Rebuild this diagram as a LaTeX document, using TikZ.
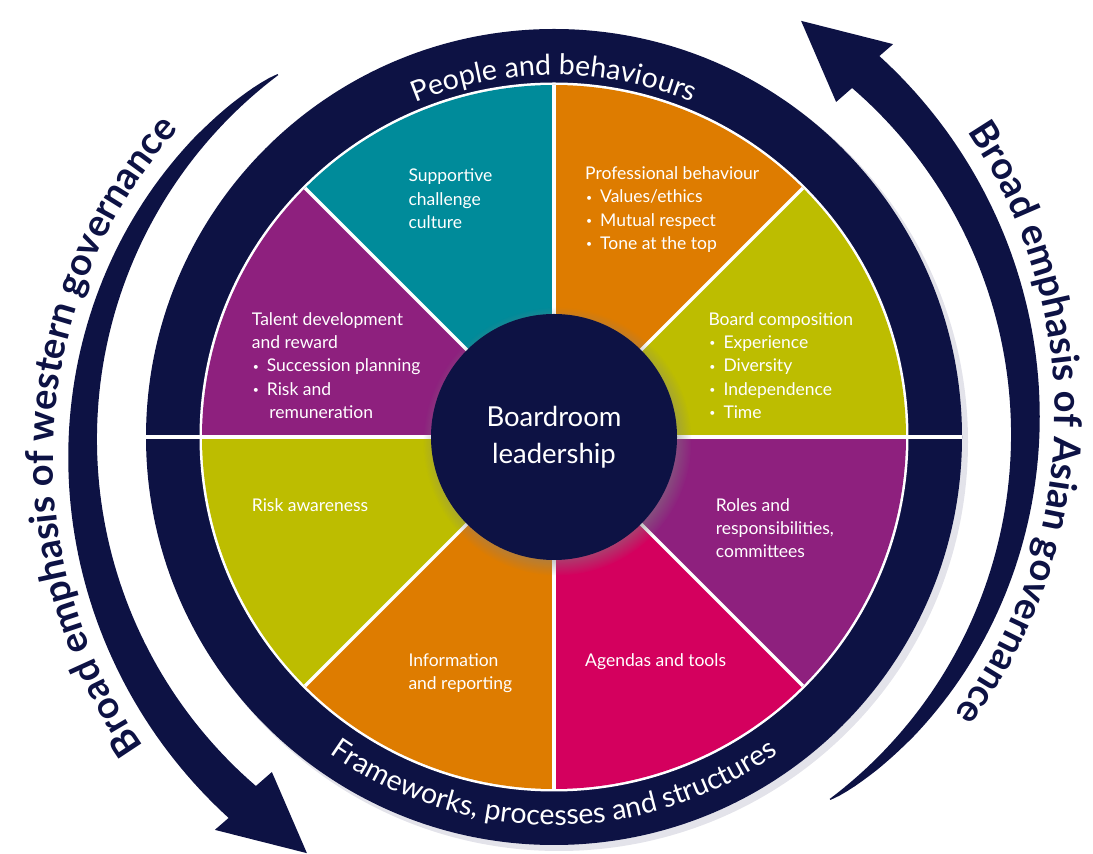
\documentclass[tikz,border=0pt]{standalone}
\usepackage{fontspec}
\setmainfont{Lato}
\usetikzlibrary{decorations.text,shadows}

\definecolor{navy}{HTML}{0D1244}
\definecolor{wheelteal}{HTML}{008B9A}
\definecolor{wheelorange}{HTML}{DE7C00}
\definecolor{wheelolive}{HTML}{BDBD00}
\definecolor{wheelpurple}{HTML}{8E207E}
\definecolor{wheelmagenta}{HTML}{D4005E}
\definecolor{ringshadow}{HTML}{E3E3EA}

% small bullet followed by a fixed indent
\newcommand{\bul}{\makebox[8pt][c]{\raisebox{1.6pt}{\scalebox{0.6}{\textbullet}}}\hspace{7pt}}

\begin{document}
\begin{tikzpicture}[x=1pt,y=1pt,
  declare function={
    sfrac(\t)=(\t-127)/102.5;
    rin(\t)=455+4*sfrac(\t);
    rout(\t)=rin(\t)+42*sfrac(\t)^0.6;
    rtxt(\t)=486+0.378*(\t-142);
  },
  sectortext/.style={text=white, align=left, inner sep=0pt, anchor=north west,
    font=\fontsize{17.5}{23.3}\selectfont},
  separator/.style={white, line width=3.2pt},
  arrowcaption/.style={decorate, decoration={text along path, text align=center,
    text={|\fontsize{38}{38}\selectfont\bfseries\color{navy}|#1}}},
  ringcaption/.style={decorate, decoration={text along path, text align=center,
    text={|\fontsize{28.5}{28.5}\selectfont\color{white}|#1}}},
]
\useasboundingbox (0,0) rectangle (1093,854);
\coordinate (c) at (554,417);

% ---- sweeping arrows around the wheel ----
\foreach \turn in {0,180}{
  \begin{scope}[shift={(554,417)}, rotate=\turn]
    \fill[navy] plot[domain=127.3:229.5, samples=90, variable=\t]
        ({rout(\t)*cos(\t)},{rout(\t)*sin(\t)})
      -- (229.2:519pt) -- (239.3:484pt) -- (229.9:438pt)
      -- plot[domain=229.5:127.3, samples=90, variable=\t]
        ({rin(\t)*cos(\t)},{rin(\t)*sin(\t)}) -- cycle;
  \end{scope}
}

% arrow captions
\path[arrowcaption={Broad emphasis of western governance}]
  plot[domain=238:118, samples=80, variable=\t]
    ({554+rtxt(\t)*cos(\t)},{417+rtxt(\t)*sin(\t)});
\path[arrowcaption={Broad emphasis of Asian governance}]
  plot[domain=420:300, samples=80, variable=\t]
    ({554+rtxt(\t-180)*cos(\t)},{417+rtxt(\t-180)*sin(\t)});

% ---- outer ring ----
\fill[ringshadow] ([shift={(5,-5)}]c) circle[radius=409];
\fill[navy] (c) circle[radius=408];
\fill[white] (c) circle[radius=354.5];

% ---- sectors ----
\fill[wheelolive]   (c) -- ++(0:352pt)   arc[start angle=0,   end angle=45,  radius=352pt] -- cycle;
\fill[wheelorange]  (c) -- ++(45:352pt)  arc[start angle=45,  end angle=90,  radius=352pt] -- cycle;
\fill[wheelteal]    (c) -- ++(90:352pt)  arc[start angle=90,  end angle=135, radius=352pt] -- cycle;
\fill[wheelpurple]  (c) -- ++(135:352pt) arc[start angle=135, end angle=180, radius=352pt] -- cycle;
\fill[wheelolive]   (c) -- ++(180:352pt) arc[start angle=180, end angle=225, radius=352pt] -- cycle;
\fill[wheelorange]  (c) -- ++(225:352pt) arc[start angle=225, end angle=270, radius=352pt] -- cycle;
\fill[wheelmagenta] (c) -- ++(270:352pt) arc[start angle=270, end angle=315, radius=352pt] -- cycle;
\fill[wheelpurple]  (c) -- ++(315:352pt) arc[start angle=315, end angle=360, radius=352pt] -- cycle;

\foreach \a in {45,90,135,225,270,315}
  \draw[separator] (c) -- ++(\a:352pt);
\draw[separator] ([shift={(180:408pt)}]c) -- ([shift={(0:408pt)}]c);

% ---- ring captions ----
\path[ringcaption={People and behaviours}]
  ([shift={(160:362pt)}]c) arc[start angle=160, end angle=20, radius=362pt];
\path[ringcaption={Frameworks, processes and structures}]
  ([shift={(200:388pt)}]c) arc[start angle=200, end angle=340, radius=388pt];

% ---- hub ----
\node[circle, fill=navy, minimum size=246pt, inner sep=0pt,
  circular drop shadow={shadow xshift=3pt, shadow yshift=-4pt, shadow scale=1.09, opacity=0.55},
  text=white, align=center, font=\fontsize{27.5}{37}\selectfont] (hub) at (c) {Boardroom\\leadership};

% ---- sector labels ----
\node[sectortext] (supportive) at (408.3,688.6) {\strut Supportive\\challenge\\culture};
\node[sectortext] (professional) at (585,691) {\strut Professional behaviour\\\bul Values/ethics\\\bul Mutual respect\\\bul Tone at the top};
\node[sectortext] (board) at (708.3,545.3) {\strut Board composition\\\bul Experience\\\bul Diversity\\\bul Independence\\\bul Time};
\node[sectortext] (talent) at (251.7,545.3) {\strut Talent development\\and reward\\\bul Succession planning\\\bul Risk and\\\hspace{17.5pt}remuneration};
\node[sectortext] (risk) at (251.7,359.3) {\strut Risk awareness};
\node[sectortext] (roles) at (715.7,359.3) {\strut Roles and\\responsibilities,\\committees};
\node[sectortext] (info) at (408.3,204.3) {\strut Information\\and reporting};
\node[sectortext] (agendas) at (585,204.3) {\strut Agendas and tools};
\end{tikzpicture}
\end{document}
